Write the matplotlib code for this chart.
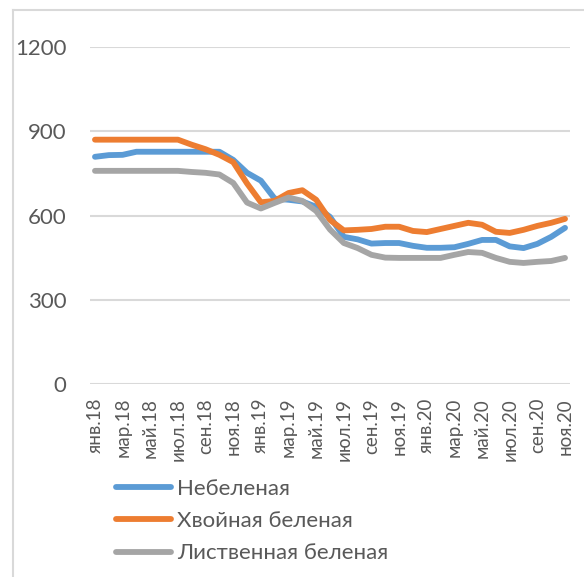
import matplotlib
matplotlib.use("Agg")
import matplotlib.pyplot as plt
from matplotlib.lines import Line2D

plt.rcParams['font.family'] = ['Lato', 'DejaVu Sans']

months = ["янв", "фев", "мар", "апр", "май", "июн", "июл", "авг", "сен", "окт", "ноя", "дек"]
years = ["18", "19", "20"]
categories = [f"{m}.{y}" for y in years for m in months][:35]

unbleached = [809, 815, 816, 827, 827, 827, 827, 827, 827, 827, 798, 752, 724, 660, 656, 650,
              631, 595, 524, 515, 500, 502, 502, 492, 485, 485, 487, 499, 513, 513, 490, 484,
              499, 524, 556]
softwood = [870, 870, 870, 870, 870, 870, 870, 852, 836, 816, 790, 714, 647, 652, 680, 690,
            656, 584, 547, 549, 552, 560, 560, 545, 541, 552, 563, 574, 567, 542, 538, 549,
            563, 574, 588]
hardwood = [759, 759, 759, 759, 759, 759, 759, 755, 752, 746, 716, 646, 625, 645, 664, 652,
            616, 550, 502, 484, 460, 450, 449, 449, 449, 449, 460, 470, 467, 449, 435, 431,
            435, 438, 449]
series_names = ["Небеленая", "Хвойная беленая", "Лиственная беленая"]
yticks = [0, 300, 600, 900, 1200]

colors = ["#5B9BD5", "#ED7D31", "#A5A5A5"]
text_color = "#595959"
grid_color = "#D9D9D9"

fig = plt.figure(figsize=(5.84, 5.77), dpi=100)
ax = fig.add_axes([90/584, 1-384/577, 480/584, 337/577])

x = list(range(len(categories)))
for vals, name, c in zip([unbleached, softwood, hardwood], series_names, colors):
    ax.plot(x, vals, color=c, lw=4.2, label=name, solid_capstyle='round', solid_joinstyle='round')

ax.set_ylim(0, 1200)
ax.set_xlim(-0.36, len(categories) - 1 + 0.36)
ax.set_yticks(yticks)
ax.set_yticklabels([str(v) for v in yticks])
ax.set_xticks(x[::2])
ax.set_xticklabels(categories[::2], rotation=90)
ax.yaxis.grid(True, color=grid_color, lw=1.5)
ax.set_axisbelow(True)
for s in ax.spines.values():
    s.set_visible(False)
ax.tick_params(axis='y', length=0, pad=17, labelsize=16, labelcolor=text_color)
ax.tick_params(axis='x', length=0, pad=10, labelsize=13.5, labelcolor=text_color)

leg = ax.legend(loc='upper left', bbox_to_anchor=(116/584, 1-479/577), bbox_transform=fig.transFigure,
                frameon=False, fontsize=16, handlelength=2.48, handletextpad=0.27,
                labelspacing=0.55, borderpad=0, borderaxespad=0)
for t in leg.get_texts():
    t.set_color(text_color)
for h in leg.get_lines():
    h.set_linewidth(4.2)
    h.set_solid_capstyle('round')

fig.add_artist(Line2D([13/584, 1], [1-10/577, 1-10/577], transform=fig.transFigure, color=grid_color, lw=1.5))
fig.add_artist(Line2D([13/584, 13/584], [0, 1-10/577], transform=fig.transFigure, color=grid_color, lw=1.5))

fig.savefig("out.png", dpi=100)
